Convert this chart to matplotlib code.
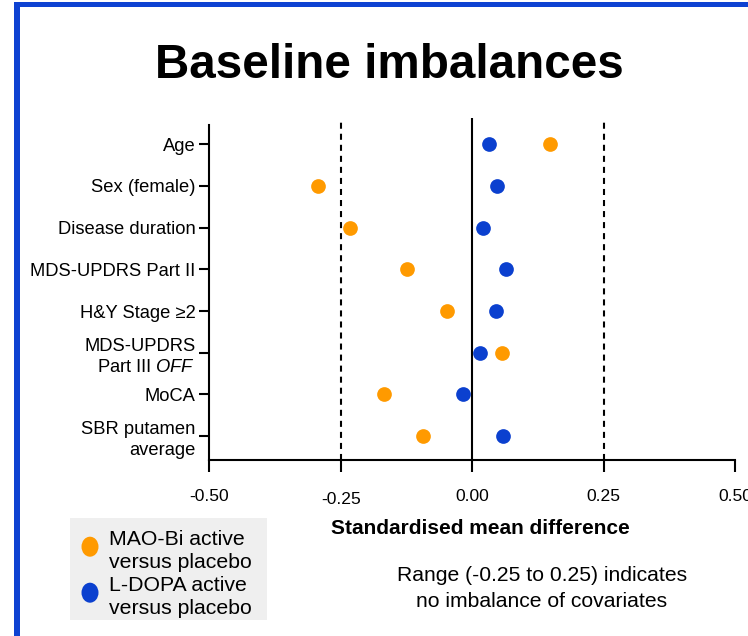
import matplotlib
matplotlib.use("Agg")
import matplotlib.pyplot as plt
from matplotlib.patches import Ellipse, Rectangle
from matplotlib.transforms import ScaledTranslation

plt.rcParams.update({"font.family": "Liberation Sans", "mathtext.fontset": "custom",
                     "mathtext.rm": "Liberation Sans", "mathtext.it": "Liberation Sans:italic"})

covariates = ["Age", "Sex (female)", "Disease duration", "MDS-UPDRS Part II", "H&Y Stage \u22652",
              "MDS-UPDRS\nPart III $\\mathit{OFF}$", "MoCA", "SBR putamen\naverage"]
maob_smd = [0.148, -0.293, -0.232, -0.124, -0.048, 0.056, -0.167, -0.094]
ldopa_smd = [0.032, 0.048, 0.021, 0.065, 0.045, 0.014, -0.018, 0.058]
xticks = [-0.50, -0.25, 0.00, 0.25, 0.50]
threshold = 0.25
series_labels = ["MAO-Bi active\nversus placebo", "L-DOPA active\nversus placebo"]
ORANGE, BLUE = "#FF9A00", "#0B40CF"

W, H = 748, 636
fig = plt.figure(figsize=(W / 100, H / 100), dpi=100)
px = lambda x: x / W
py = lambda y: 1 - y / H

ax = fig.add_axes([px(209.3), py(459.5), px(735) - px(209.3), py(118) - py(459.5)])
ypos = list(range(len(covariates)))
ax.axvline(0, color="k", lw=1.5, zorder=1)
for v in (-threshold, threshold):
    ax.axvline(v, color="k", lw=1.5, ls=(0, (2.9, 2.4)), zorder=1)
ax.scatter(maob_smd, ypos, s=112, color=ORANGE, lw=0, zorder=3)
ax.scatter(ldopa_smd, ypos, s=112, color=BLUE, lw=0, zorder=3)

ax.set_xlim(-0.5, 0.5)
ax.set_ylim(7.56, -0.63)
ax.set_yticks(ypos)
ax.set_yticklabels(covariates, fontsize=13.2, linespacing=1.3)
ax.set_xticks(xticks)
ax.set_xticklabels([f"{t:.2f}" for t in xticks], fontsize=12.6)
for s in ("top", "right"):
    ax.spines[s].set_visible(False)
for s in ("left", "bottom"):
    ax.spines[s].set_linewidth(1.5)
ax.spines["left"].set_bounds(7.56, -0.46)
ax.tick_params(axis="x", length=8.5, width=1.5, pad=13)
ax.tick_params(axis="y", length=7, width=1.5, pad=3)
# the -0.25 label sits a little lower in the original
lab = ax.get_xticklabels()[1]
lab.set_transform(lab.get_transform() + ScaledTranslation(0, -3 / 100, fig.dpi_scale_trans))

fig.text(px(389.5), py(78), "Baseline imbalances", fontsize=34.3, fontweight="bold",
         ha="center", va="baseline")
fig.text(px(480), py(534), "Standardised mean difference", fontsize=15, fontweight="bold",
         ha="center", va="baseline")
fig.text(px(542), py(581), "Range (-0.25 to 0.25) indicates", fontsize=15.2,
         ha="center", va="baseline")
fig.text(px(542), py(607), "no imbalance of covariates", fontsize=15.2,
         ha="center", va="baseline")

# legend box
fig.add_artist(Rectangle((px(70), py(620)), px(267) - px(70), py(518) - py(620),
                         transform=fig.transFigure, color="#EFEFEF", lw=0, zorder=0))
for i, (lbl, c) in enumerate(zip(series_labels, [ORANGE, BLUE])):
    top = 545 + i * 46
    fig.add_artist(Ellipse((px(90), py(top + 1.7)), px(17), 20 / H, transform=fig.transFigure,
                           color=c, lw=0))
    for j, line in enumerate(lbl.split("\n")):
        fig.text(px(109), py(top + j * 23.3), line, fontsize=15.3, ha="left", va="baseline")

# blue frame at top and left
fig.add_artist(Rectangle((px(14), py(7)), 1 - px(14), 5 / H, transform=fig.transFigure,
                         color="#0E42D2", lw=0))
fig.add_artist(Rectangle((px(14), 0), px(6), py(2), transform=fig.transFigure,
                         color="#0E42D2", lw=0))

fig.savefig("out.png", dpi=100)
